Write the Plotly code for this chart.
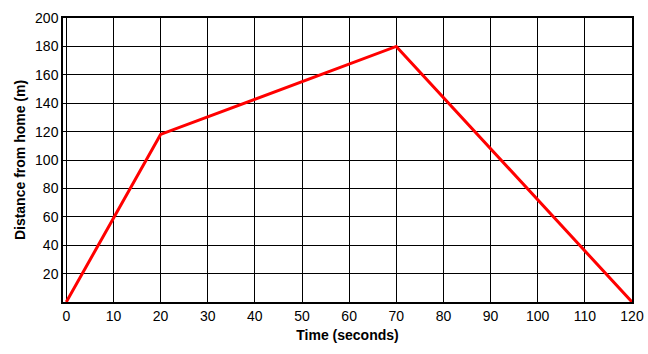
import plotly.graph_objects as go

time_s = [0, 20, 70, 120]
distance_m = [0, 118, 180, 0]
x_ticks = list(range(0, 121, 10))
y_ticks = list(range(20, 201, 20))

fig = go.Figure()
fig.add_trace(go.Scatter(x=time_s, y=distance_m, mode="lines",
                         line=dict(color="#ff0000", width=3), showlegend=False,
                         cliponaxis=False, hoverinfo="skip"))

fig.update_layout(
    width=648, height=354,
    margin=dict(l=63, r=16, t=18, b=52),
    paper_bgcolor="white", plot_bgcolor="white",
    font=dict(family="Liberation Sans, Arial, sans-serif", size=14, color="black"),
)
fig.update_xaxes(range=[-0.7, 120], tickvals=x_ticks, ticktext=[str(v) for v in x_ticks],
                 showgrid=True, gridcolor="black", gridwidth=1.3,
                 showline=True, linecolor="black", linewidth=1.5, mirror=True,
                 zeroline=False, ticks="", ticklen=0, automargin=False,
                 ticklabeloverflow="allow",
                 title=dict(text="<b>Time (seconds)</b>", font=dict(size=14), standoff=8))
fig.update_yaxes(range=[0, 200], tickvals=y_ticks, ticktext=[str(v) for v in y_ticks],
                 showgrid=True, gridcolor="black", gridwidth=1.3,
                 showline=True, linecolor="black", linewidth=1.5, mirror=True,
                 zeroline=False, ticks="", ticklen=0, automargin=False,
                 ticklabeloverflow="allow",
                 title=dict(text="<b>Distance from home (m)</b>", font=dict(size=14), standoff=6))

fig.write_html(
    "out.html",
    config={"displayModeBar": False},
    post_script="document.body.style.margin='0';document.body.style.overflow='hidden';",
)
